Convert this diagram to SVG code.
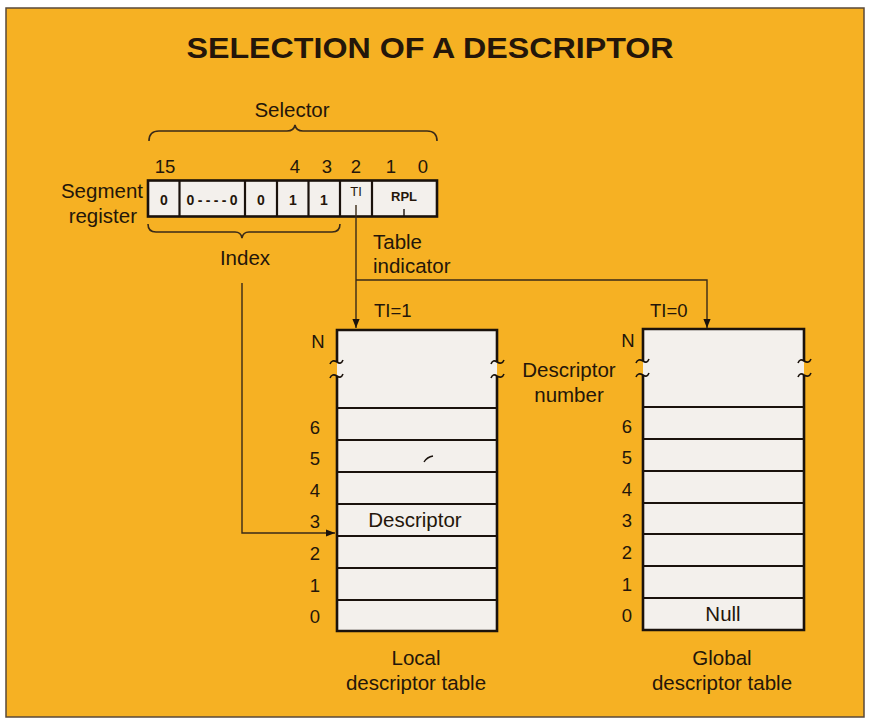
<svg xmlns="http://www.w3.org/2000/svg" width="871" height="720" viewBox="0 0 871 720">
<style>
text{font-family:"Liberation Sans",Arial,sans-serif;fill:#24160a}
.lbl{font-size:20.5px}
.num{font-size:18.5px}
.cell{font-size:14px;font-weight:bold;text-anchor:middle}
.mid{text-anchor:middle}
.end{text-anchor:end}
.box{fill:#f3f0ec;stroke:none}
.edge{fill:none;stroke:#1a120c;stroke-width:2.6}
.row{fill:none;stroke:#1a120c;stroke-width:2.2}
.conn{fill:none;stroke:#3a2a18;stroke-width:1.4}
.brace{fill:none;stroke:#3a2a18;stroke-width:1.6}
.tilde{fill:none;stroke:#1a120c;stroke-width:1.6}
</style>
<defs>
<marker id="ah" viewBox="0 0 10 10" refX="10" refY="5" markerWidth="9" markerHeight="9" markerUnits="userSpaceOnUse" orient="auto">
<path d="M0,1 L10,5 L0,9 Z" fill="#1a120c"/>
</marker>
</defs>
<rect x="0" y="0" width="871" height="720" fill="#ffffff"/>
<rect x="6" y="8" width="858" height="709" fill="#f6b123" stroke="#5a4a3a" stroke-width="1.5"/>
<g id="title">
<text x="430" y="58" class="mid" style="font-size:30px;font-weight:bold" textLength="487" lengthAdjust="spacingAndGlyphs">SELECTION OF A DESCRIPTOR</text>
</g>
<g id="selector">
<text x="292" y="117" class="lbl mid">Selector</text>
<path class="brace" d="M149,141 Q149,131 159,131 L287,131 Q294,131 295,125 Q296,131 303,131 L427,131 Q437,131 437,141"/>
</g>
<g id="bits">
<text x="165" y="173" class="num mid">15</text>
<text x="295" y="173" class="num mid">4</text>
<text x="327" y="173" class="num mid">3</text>
<text x="356" y="173" class="num mid">2</text>
<text x="391" y="173" class="num mid">1</text>
<text x="423" y="173" class="num mid">0</text>
</g>
<g id="segment-register">
<text x="143" y="198" class="lbl end">Segment</text>
<text x="137" y="223" class="lbl end">register</text>
<rect x="148" y="180.5" width="289" height="36" class="box"/>
<rect x="148" y="180.5" width="289" height="36" class="edge"/>
<path class="row" d="M179.5,180.5 V216.5 M245,180.5 V216.5 M277,180.5 V216.5 M308.5,180.5 V216.5 M340,180.5 V216.5 M372,180.5 V216.5"/>
<text x="164" y="205" class="cell">0</text>
<text x="212" y="205" class="cell" textLength="51" lengthAdjust="spacing">0----0</text>
<text x="261" y="205" class="cell">0</text>
<text x="293" y="205" class="cell">1</text>
<text x="324" y="205" class="cell">1</text>
<text x="356" y="196" class="cell" style="font-weight:normal;font-size:13px">TI</text>
<text x="404" y="201" class="cell" style="font-size:13px">RPL</text>
<path d="M404,209 V216" stroke="#1a120c" stroke-width="1.4"/>
</g>
<g id="index">
<path class="brace" d="M148,224 Q148,232 156,232 L235,232 Q241,232 242,238 Q243,232 249,232 L332,232 Q340,232 340,224"/>
<text x="245" y="265" class="lbl mid">Index</text>
</g>
<g id="table-indicator">
<text x="373" y="249" class="lbl">Table</text>
<text x="373" y="273" class="lbl">indicator</text>
</g>
<g id="connectors">
<path class="conn" d="M356,205 V328" marker-end="url(#ah)"/>
<path class="conn" d="M356,280 H707 V328" marker-end="url(#ah)"/>
<path class="conn" d="M242,283 V533 H335" marker-end="url(#ah)"/>
</g>
<g id="ldt">
<text x="374" y="317" class="num">TI=1</text>
<rect x="337" y="330" width="160" height="301" class="box"/>
<path class="edge" d="M337,362 V330 H497 V362 M337,376 V631 H497 V376"/>
<path class="tilde" d="M330,364 Q332,359 337,362 Q341,365 343,360 M330,378 Q332,373 337,376 Q341,379 343,374"/>
<path class="tilde" d="M491,364 Q493,359 497,362 Q502,365 504,360 M491,378 Q493,373 497,376 Q502,379 504,374"/>
<path class="row" d="M337,408 H497 M337,440 H497 M337,472 H497 M337,504 H497 M337,536 H497 M337,568 H497 M337,600 H497"/>
<text x="318" y="348" class="num mid">N</text>
<text x="315" y="434" class="num mid">6</text>
<text x="315" y="465" class="num mid">5</text>
<text x="315" y="497" class="num mid">4</text>
<text x="315" y="528" class="num mid">3</text>
<text x="315" y="560" class="num mid">2</text>
<text x="315" y="592" class="num mid">1</text>
<text x="315" y="623" class="num mid">0</text>
<text x="415" y="527" class="lbl mid">Descriptor</text>
<path d="M424,462 Q427,457 433,456" fill="none" stroke="#1a120c" stroke-width="1.4"/>
<text x="416" y="665" class="lbl mid">Local</text>
<text x="416" y="690" class="lbl mid">descriptor table</text>
</g>
<g id="descriptor-number">
<text x="569" y="377" class="lbl mid">Descriptor</text>
<text x="569" y="402" class="lbl mid">number</text>
</g>
<g id="gdt">
<text x="650" y="317" class="num">TI=0</text>
<rect x="643" y="329" width="161" height="301" class="box"/>
<path class="edge" d="M643,361 V329 H804 V361 M643,375 V630 H804 V375"/>
<path class="tilde" d="M636,363 Q638,358 643,361 Q647,364 649,359 M636,377 Q638,372 643,375 Q647,378 649,373"/>
<path class="tilde" d="M798,363 Q800,358 804,361 Q809,364 811,359 M798,377 Q800,372 804,375 Q809,378 811,373"/>
<path class="row" d="M643,407 H804 M643,439 H804 M643,471 H804 M643,503 H804 M643,534 H804 M643,566 H804 M643,598 H804"/>
<text x="628" y="347" class="num mid">N</text>
<text x="627" y="433" class="num mid">6</text>
<text x="627" y="464" class="num mid">5</text>
<text x="627" y="496" class="num mid">4</text>
<text x="627" y="527" class="num mid">3</text>
<text x="627" y="559" class="num mid">2</text>
<text x="627" y="591" class="num mid">1</text>
<text x="627" y="622" class="num mid">0</text>
<text x="723" y="621" class="lbl mid">Null</text>
<text x="722" y="665" class="lbl mid">Global</text>
<text x="722" y="690" class="lbl mid">descriptor table</text>
</g>
</svg>
